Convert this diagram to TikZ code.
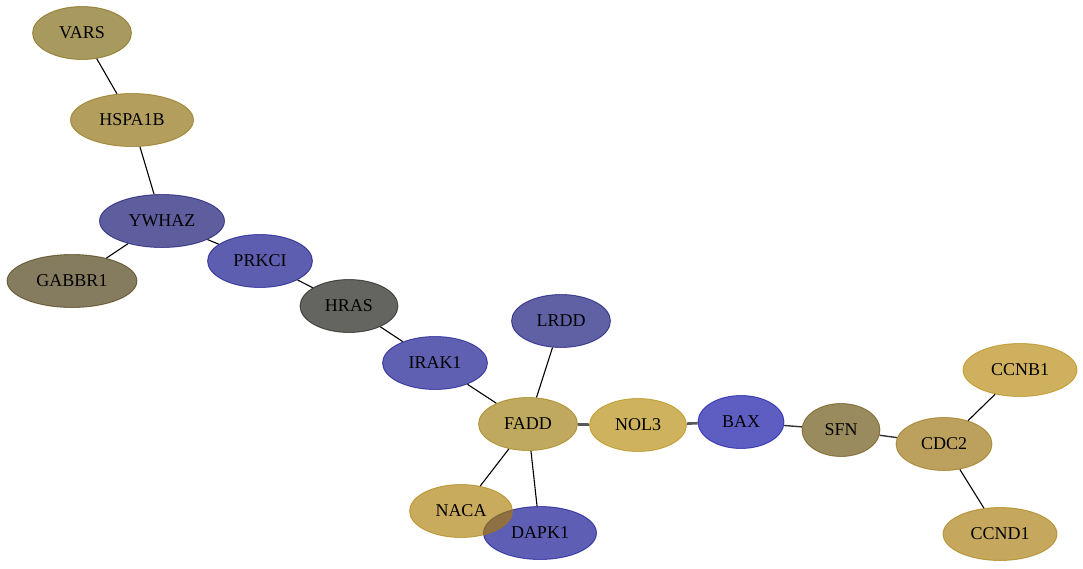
\documentclass[tikz,border=0pt]{standalone}
\usepackage{fontspec}
\setmainfont{Liberation Serif}
\usetikzlibrary{shapes.geometric}
\definecolor{cVARS}{RGB}{117,95,0}
\definecolor{cHSPA}{RGB}{135,102,0}
\definecolor{cYWHAZ}{RGB}{0,0,102}
\definecolor{cGABBR}{RGB}{62,46,0}
\definecolor{cPRKCI}{RGB}{0,0,130}
\definecolor{cHRAS}{RGB}{10,10,3}
\definecolor{cIRAK}{RGB}{3,3,133}
\definecolor{cLRDD}{RGB}{3,3,111}
\definecolor{cFADD}{RGB}{154,119,0}
\definecolor{cNOL}{RGB}{179,133,0}
\definecolor{cBAX}{RGB}{0,0,159}
\definecolor{cSFN}{RGB}{95,71,0}
\definecolor{cCDC}{RGB}{149,106,0}
\definecolor{cCCNB}{RGB}{179,130,0}
\definecolor{cCCND}{RGB}{163,117,0}
\definecolor{cNACA}{RGB}{170,122,0}
\definecolor{cDAPK}{RGB}{0,0,138}
\tikzset{
  gene/.style={ellipse, inner sep=0pt, minimum height=53pt, fill=#1, draw=#1,
    fill opacity=0.63, draw opacity=0.6, text opacity=1, line width=0.9pt,
    font=\fontsize{18}{20}\selectfont, text=black},
  link/.style={draw=black, line width=1.1pt},
  strong/.style={draw=black!65, line width=2.6pt},
  medium/.style={draw=black!80, line width=1.4pt}
}
\begin{document}
\begin{tikzpicture}[x=1pt,y=-1pt]
\useasboundingbox (0,0) rectangle (1083,568);
\node[gene=cVARS, minimum width=99pt] (VARS) at (82,33) {VARS};
\node[gene=cHSPA, minimum width=123pt] (HSPA1B) at (132,120) {HSPA1B};
\node[gene=cYWHAZ, minimum width=125pt] (YWHAZ) at (162,221) {YWHAZ};
\node[gene=cGABBR, minimum width=130pt] (GABBR1) at (72,281) {GABBR1};
\node[gene=cPRKCI, minimum width=105pt] (PRKCI) at (260,261) {PRKCI};
\node[gene=cHRAS, minimum width=98pt] (HRAS) at (349,306) {HRAS};
\node[gene=cIRAK, minimum width=105pt] (IRAK1) at (435,363) {IRAK1};
\node[gene=cLRDD, minimum width=99pt] (LRDD) at (561,321) {LRDD};
\node[gene=cFADD, minimum width=99pt] (FADD) at (528,424) {FADD};
\node[gene=cNOL, minimum width=97pt] (NOL3) at (638,425) {NOL3};
\node[gene=cBAX, minimum width=86pt] (BAX) at (741,422) {BAX};
\node[gene=cSFN, minimum width=78pt] (SFN) at (841,430) {SFN};
\node[gene=cCDC, minimum width=96pt] (CDC2) at (944,444) {CDC2};
\node[gene=cCCNB, minimum width=114pt] (CCNB1) at (1020,370) {CCNB1};
\node[gene=cCCND, minimum width=114pt] (CCND1) at (1000,534) {CCND1};
\node[gene=cDAPK, minimum width=113pt] (DAPK1) at (540,533) {DAPK1};
\node[gene=cNACA, minimum width=103pt] (NACA) at (461,511) {NACA};
\path[link] (VARS) -- (HSPA1B);
\path[link] (HSPA1B) -- (YWHAZ);
\path[link] (YWHAZ) -- (GABBR1);
\path[link] (YWHAZ) -- (PRKCI);
\path[link] (PRKCI) -- (HRAS);
\path[link] (HRAS) -- (IRAK1);
\path[link] (IRAK1) -- (FADD);
\path[link] (LRDD) -- (FADD);
\path[strong] (FADD) -- (NOL3);
\path[strong] (NOL3) -- (BAX);
\path[link] (FADD) -- (NACA);
\path[link] (FADD) -- (DAPK1);
\path[medium] (BAX) -- (SFN);
\path[medium] (SFN) -- (CDC2);
\path[link] (CDC2) -- (CCNB1);
\path[link] (CDC2) -- (CCND1);
\end{tikzpicture}
\end{document}
